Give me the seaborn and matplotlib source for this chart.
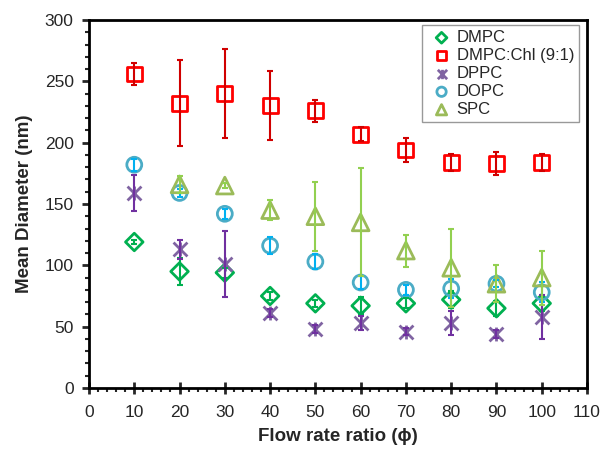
import numpy as np
import pandas as pd
import seaborn as sns
import matplotlib.pyplot as plt
from matplotlib.path import Path
from matplotlib.ticker import MultipleLocator

# flow rate ratios
frr = [10, 20, 30, 40, 50, 60, 70, 80, 90, 100]

# mean diameters (nm) and error bars
dmpc = [119, 95, 94, 75, 69, 67, 69, 72, 65, 69]
dmpc_err = [2, 11, 4, 3, 3, 7, 4, 7, 6, 6]
dmpc_chl = [256, 232, 240, 230, 226, 207, 194, 184, 183, 184]
dmpc_chl_err = [9, 35, 36, 28, 9, 6, 10, 7, 9, 7]
dppc = [159, 113, 101, 61, 48, 53, 46, 53, 44, 58]
dppc_err = [15, 8, 27, 3, 3, 6, 3, 10, 3, 18]
dopc = [182, 159, 142, 116, 103, 86, 80, 81, 85, 78]
dopc_err = [5, 3, 4, 7, 6, 5, 4, 8, 3, 8]
spc = [np.nan, 166, 165, 145, 140, 135, 112, 98, 85, 90]
spc_err = [0, 7, 2, 8, 28, 44, 13, 32, 15, 22]

labels = ['DMPC', 'DMPC:Chl (9:1)', 'DPPC', 'DOPC', 'SPC']
values = [dmpc, dmpc_chl, dppc, dopc, spc]
errors = [dmpc_err, dmpc_chl_err, dppc_err, dopc_err, spc_err]
colors = ['#00B050', '#FF0000', '#8064A2', '#4BACC6', '#9BBB59']
err_colors = ['#00B050', '#D00000', '#7030A0', '#00B0F0', '#92D050']

# Excel-like star marker: an X with a vertical bar
star = Path([(-1, -1), (1, 1), (-1, 1), (1, -1), (0, -1), (0, 1)],
            [Path.MOVETO, Path.LINETO, Path.MOVETO, Path.LINETO, Path.MOVETO, Path.LINETO])
markers = ['D', 's', star, 'o', '^']
sizes = [80, 115, 100, 115, 145]
leg_sizes = [30, 45, 45, 45, 55]

sns.set_style('ticks')
plt.rcParams['font.family'] = ['Liberation Sans', 'DejaVu Sans']

fig = plt.figure(figsize=(6.03, 4.54), dpi=100)
ax = fig.add_axes([0.1476, 0.1454, 0.8259, 0.8106])

for lab, v, e, c, ec, m, s in zip(labels, values, errors, colors, err_colors, markers, sizes):
    df = pd.DataFrame({'x': frr, 'y': v})
    if m is star:
        sns.scatterplot(data=df, x='x', y='y', marker=m, s=s, color=c, edgecolor=c,
                        linewidth=2, ax=ax, label=lab, zorder=3)
    else:
        sns.scatterplot(data=df, x='x', y='y', marker=m, s=s, facecolors='none',
                        edgecolor=c, linewidth=2, ax=ax, label=lab, zorder=3)
    ax.errorbar(frr, v, yerr=e, fmt='none', ecolor=ec, elinewidth=1.5,
                capsize=2.5, capthick=1.5, zorder=4)

ax.set_xlim(0, 110)
ax.set_ylim(0, 300)
ax.xaxis.set_major_locator(MultipleLocator(10))
ax.xaxis.set_minor_locator(MultipleLocator(2))
ax.yaxis.set_major_locator(MultipleLocator(50))
ax.yaxis.set_minor_locator(MultipleLocator(10))
ax.tick_params(axis='x', which='major', direction='inout', length=8, width=2, labelsize=12.5, pad=8)
ax.tick_params(axis='x', which='minor', direction='out', length=3, width=1.5)
ax.tick_params(axis='y', which='major', direction='out', length=5, width=2, labelsize=12.5, pad=6)
ax.tick_params(axis='y', which='minor', direction='out', length=3, width=1.5)
for sp in ax.spines.values():
    sp.set_linewidth(2)
    sp.set_color('black')

ax.set_xlabel('Flow rate ratio (ϕ)', fontsize=13.5, fontweight='bold', labelpad=6)
ax.set_ylabel('Mean Diameter (nm)', fontsize=13.5, fontweight='bold', labelpad=8)

leg = ax.legend(loc='upper right', bbox_to_anchor=(0.984, 0.986), fontsize=12,
                frameon=True, fancybox=False, edgecolor='#808080', handlelength=1.8,
                handletextpad=0.0, borderpad=0.3, labelspacing=0.18, borderaxespad=0)
leg.get_frame().set_linewidth(1)
for h, ls in zip(leg.legend_handles, leg_sizes):
    h.set_sizes([ls])

fig.savefig('out.png', dpi=100)
